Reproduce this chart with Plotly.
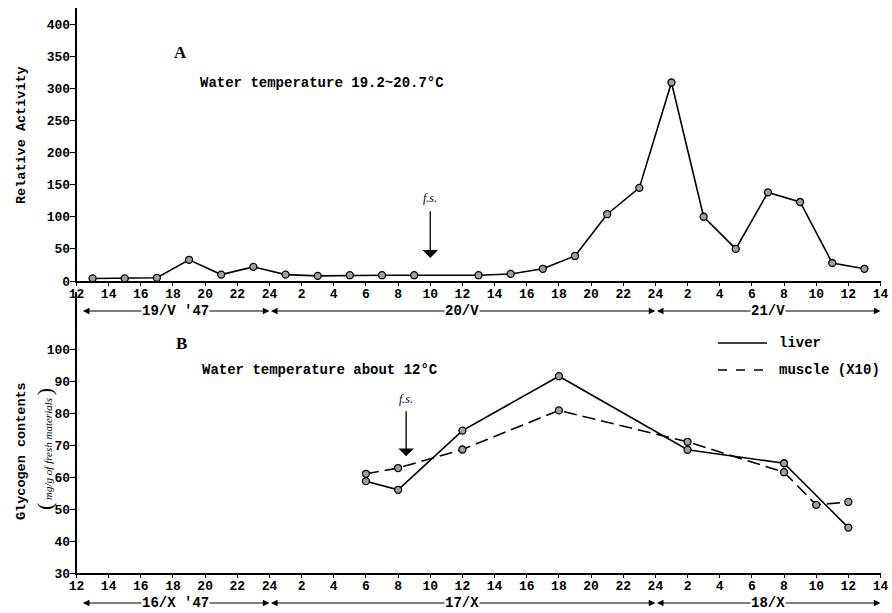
import plotly.graph_objects as go

# ---------------- data ----------------
tick_labels = ["12", "14", "16", "18", "20", "22", "24", "2", "4", "6", "8", "10", "12",
               "14", "16", "18", "20", "22", "24", "2", "4", "6", "8", "10", "12", "14"]

# Panel A: relative activity (19-21 May 1947), day + clock hour
act_day = [19, 19, 19, 19, 19, 19,
           20, 20, 20, 20, 20, 20, 20, 20, 20, 20, 20,
           21, 21, 21, 21, 21, 21, 21]
act_clock = [13, 15, 17, 19, 21, 23,
             1, 3, 5, 7, 9, 13, 15, 17, 19, 21, 23,
             1, 3, 5, 7, 9, 11, 13]
act_value = [4, 4, 5, 33, 10, 22,
             10, 8, 9, 9, 9, 9, 11, 19, 39, 104, 145,
             309, 100, 50, 138, 123, 28, 19]

# Panel B: glycogen contents (16-18 Oct 1947)
liver_day = [17, 17, 17, 17, 18, 18, 18]
liver_clock = [6, 8, 12, 18, 2, 8, 12]
liver_value = [58.7, 56.0, 74.5, 91.5, 68.5, 64.3, 44.2]

muscle_day = [17, 17, 17, 17, 18, 18, 18, 18]
muscle_clock = [6, 8, 12, 18, 2, 8, 10, 12]
muscle_value = [61.0, 62.8, 68.6, 80.8, 71.0, 61.5, 51.3, 52.2]

act_start_day = 19
gly_start_day = 16
fs_a = (20, 10)      # feeding (f.s.) in panel A
fs_b = (17, 8.5)     # feeding (f.s.) in panel B

top_dates = ["19/V '47", "20/V", "21/V"]
bot_dates = ["16/X '47", "17/X", "18/X"]


def hours(days, clocks, d0):
    return [(d - d0) * 24 + c - 12 for d, c in zip(days, clocks)]


# ---------------- figure ----------------
W, H = 892, 613
MONO = "Liberation Mono"
SERIF = "Liberation Serif"

fig = go.Figure()

xdom = [76.5 / W, 880.5 / W]
top_dom = [1 - 281 / H, 1 - 8 / H]
bot_dom = [1 - 573 / H, 1 - 292 / H]

marker = dict(symbol="circle", size=7, color="#a0a0a0", line=dict(color="black", width=1.3))

fig.add_trace(go.Scatter(x=hours(act_day, act_clock, act_start_day), y=act_value,
                         mode="lines+markers", line=dict(color="black", width=1.6),
                         marker=marker, xaxis="x", yaxis="y", showlegend=False))
fig.add_trace(go.Scatter(x=hours(liver_day, liver_clock, gly_start_day), y=liver_value,
                         mode="lines+markers", line=dict(color="black", width=1.6),
                         marker=marker, xaxis="x2", yaxis="y2", showlegend=False))
fig.add_trace(go.Scatter(x=hours(muscle_day, muscle_clock, gly_start_day), y=muscle_value,
                         mode="lines+markers", line=dict(color="black", width=1.6, dash="13px,6px"),
                         marker=marker, xaxis="x2", yaxis="y2", showlegend=False))

tickfont = dict(family=MONO, size=13, color="black", weight="bold")
xaxis_common = dict(range=[0, 50], tickvals=list(range(0, 51, 2)), ticktext=tick_labels,
                    showgrid=False, zeroline=False, showline=True, linecolor="black",
                    linewidth=1.6, ticks="outside", ticklen=3, tickcolor="black",
                    tickfont=tickfont, domain=xdom, fixedrange=True, automargin=False,
                    ticklabelstandoff=-3)
yaxis_common = dict(showgrid=False, zeroline=False, showline=True, linecolor="black",
                    linewidth=1.6, ticks="outside", ticklen=5, tickcolor="black",
                    tickfont=tickfont, automargin=False, fixedrange=True,
                    ticklabelstandoff=-3)

fig.update_layout(
    width=W, height=H,
    margin=dict(l=0, r=0, t=0, b=0),
    paper_bgcolor="white", plot_bgcolor="white",
    xaxis=dict(anchor="y", **xaxis_common),
    xaxis2=dict(anchor="y2", **xaxis_common),
    yaxis=dict(domain=top_dom, anchor="x", range=[0, 425], tickvals=list(range(0, 401, 50)),
               **yaxis_common),
    yaxis2=dict(domain=bot_dom, anchor="x2", range=[30, 30 + (573 - 292) / 3.2],
                tickvals=list(range(30, 101, 10)), **yaxis_common),
)

ann = []
shapes = []


def text(xpx, ypx, s, font, xanchor="center", angle=0):
    ann.append(dict(xref="paper", yref="paper", x=xpx / W, y=1 - ypx / H, text=s,
                    showarrow=False, xanchor=xanchor, yanchor="middle", textangle=angle,
                    font=font))


f_mono = dict(family=MONO, size=14, color="black", weight="bold")
f_letter = dict(family=SERIF, size=17, color="black", weight="bold")

# panel letters and captions
text(180, 52, "A", f_letter)
text(181, 343, "B", f_letter)
text(198, 83, "Water temperature 19.2~20.7°C", f_mono, xanchor="left")
text(200, 370, "Water temperature about 12°C", f_mono, xanchor="left")

# axis titles
text(21, 135, "Relative Activity", dict(family=MONO, size=13.5, color="black", weight="bold"), angle=-90)
text(21, 451, "Glycogen contents", dict(family=MONO, size=13.5, color="black", weight="bold"), angle=-90)
text(44, 449, "<span style='font-size:22px'>(</span> <i>mg/g of fresh materials</i> "
              "<span style='font-size:22px'>)</span>",
     dict(family=SERIF, size=11, color="black"), angle=-90)

# f.s. arrows
for (day, clk, d0, xa, ya, y_tail, y_head, y_lab) in [
        (fs_a[0], fs_a[1], act_start_day, "x", "y", 111, 36, 115),
        (fs_b[0], fs_b[1], gly_start_day, "x2", "y2", 81, 66.5, 81.5)]:
    xv = (day - d0) * 24 + clk - 12
    ann.append(dict(xref=xa, yref=ya, x=xv, y=y_head, ax=xv, ay=y_tail, axref=xa, ayref=ya,
                    text="", showarrow=True, arrowhead=1, arrowsize=2, arrowwidth=1.3,
                    arrowcolor="black"))
    ann.append(dict(xref=xa, yref=ya, x=xv, y=y_lab, text="<i>f.s.</i>", showarrow=False,
                    yanchor="bottom", font=dict(family=SERIF, size=12, color="black")))


# date rows
def date_row(labels, xa, ypix):
    yp = 1 - ypix / H
    segs = [(0.3, 12), (12, 36), (36, 50)]
    for (a, b), lab in zip(segs, labels):
        ann.append(dict(xref=xa, yref="paper", x=b, y=yp, ax=a, ay=0, axref=xa, ayref="pixel",
                        text="", showarrow=True, arrowhead=2, arrowside="end+start",
                        arrowsize=1.1, arrowwidth=1.2, arrowcolor="black"))
        ann.append(dict(xref=xa, yref="paper", x=(a + b) / 2, y=yp, text=lab,
                        showarrow=False, bgcolor="white", borderpad=0, yanchor="middle",
                        font=f_mono))


date_row(top_dates, "x", 311)
date_row(bot_dates, "x2", 603)

# legend (manual)
for ypx, dash, lab in [(343, "solid", "liver"), (370, "dash", "muscle (X10)")]:
    shapes.append(dict(type="line", xref="paper", yref="paper", x0=718 / W, x1=767 / W,
                       y0=1 - ypx / H, y1=1 - ypx / H,
                       line=dict(color="black", width=1.5, dash=dash)))
    text(777, ypx, lab, f_mono, xanchor="left")

fig.update_layout(annotations=ann, shapes=shapes)
fig.write_html("out.html", config={"displayModeBar": False},
               post_script="document.body.style.margin='0';document.body.style.overflow='hidden';")
